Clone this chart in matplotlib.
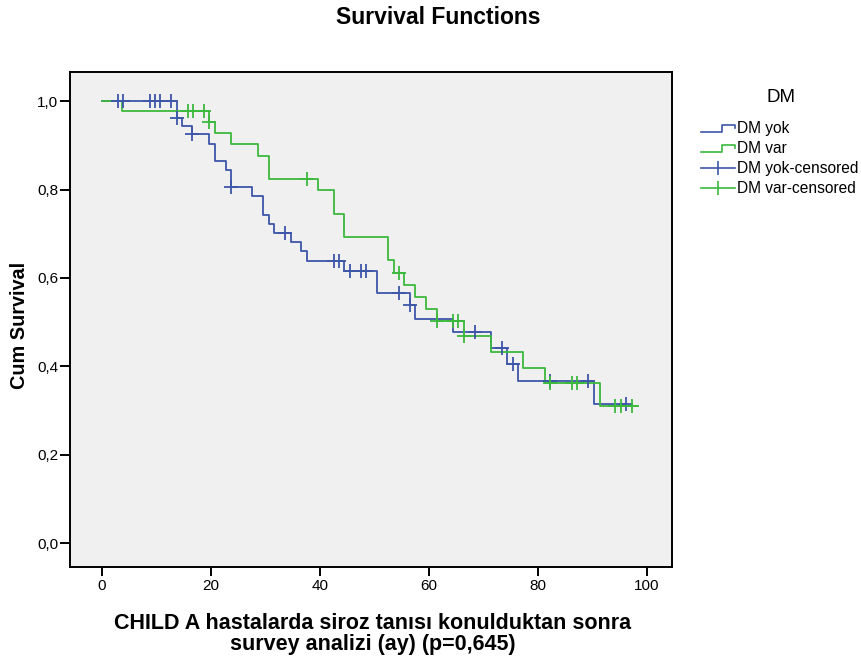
import matplotlib
matplotlib.use("Agg")
import matplotlib.pyplot as plt
from matplotlib.lines import Line2D
from matplotlib.legend_handler import HandlerBase
from matplotlib.ticker import FuncFormatter

plt.rcParams['font.family'] = ['Liberation Sans', 'DejaVu Sans']

# Kaplan-Meier steps (time in months, cumulative survival)
yok_t = [0, 13.7, 14.7, 16.6, 19.6, 20.7, 22.7, 23.7, 27.6, 29.6, 30.6, 31.6, 34.6,
         36.6, 37.6, 44.5, 50.4, 56.5, 57.5, 64.4, 71.3, 74.3, 76.3, 90.2, 96.2]
yok_s = [1.0, 0.963, 0.944, 0.925, 0.904, 0.865, 0.845, 0.805, 0.785, 0.743, 0.722, 0.702, 0.682,
         0.661, 0.639, 0.616, 0.565, 0.538, 0.508, 0.477, 0.442, 0.405, 0.367, 0.315, 0.315]
yok_cens_t = [2.9, 3.8, 8.8, 9.7, 10.7, 12.7, 13.7, 16.6, 23.7, 33.6, 42.6, 43.5,
              45.5, 47.5, 48.5, 54.5, 56.5, 68.4, 73.4, 75.4, 82.2, 89.2, 96.2]
yok_cens_s = [1.0, 1.0, 1.0, 1.0, 1.0, 1.0, 0.963, 0.925, 0.805, 0.702, 0.639, 0.639,
              0.616, 0.616, 0.616, 0.565, 0.538, 0.477, 0.442, 0.405, 0.367, 0.367, 0.315]

var_t = [0, 3.7, 19.7, 20.7, 23.7, 28.6, 30.6, 39.6, 42.6, 44.5, 52.5, 53.5, 55.5,
         57.5, 59.4, 61.5, 66.4, 71.3, 77.3, 81.3, 91.3, 98.1]
var_s = [1.0, 0.978, 0.953, 0.928, 0.902, 0.876, 0.825, 0.799, 0.745, 0.692, 0.640, 0.612, 0.584,
         0.557, 0.530, 0.502, 0.468, 0.433, 0.397, 0.363, 0.310, 0.310]
var_cens_t = [15.7, 16.7, 18.7, 19.7, 37.6, 54.5, 61.5, 64.4, 65.4, 66.4,
              82.3, 86.2, 87.2, 94.2, 95.2, 97.2]
var_cens_s = [0.978, 0.978, 0.978, 0.953, 0.825, 0.612, 0.502, 0.502, 0.502, 0.468,
              0.363, 0.363, 0.363, 0.310, 0.310, 0.310]

labels = ['DM yok', 'DM var', 'DM yok-censored', 'DM var-censored']
blue = '#3d56a8'
green = '#3cb93c'


class StepHandler(HandlerBase):
    # little step glyph like the SPSS legend
    def create_artists(self, legend, orig_handle, xdescent, ydescent, width, height, fontsize, trans):
        x0 = -xdescent
        y0 = -ydescent
        xs = [x0, x0 + width * 0.62, x0 + width * 0.62, x0 + width, x0 + width]
        ys = [y0 + height * 0.1, y0 + height * 0.1, y0 + height * 0.75, y0 + height * 0.75, y0 + height * 0.45]
        ln = Line2D(xs, ys, color=orig_handle.get_color(), lw=1.2, transform=trans)
        return [ln]


fig = plt.figure(figsize=(8.62, 6.64), dpi=100)
ax = fig.add_axes([70 / 862, 1 - 567 / 664, 602 / 862, 495 / 664])
ax.set_facecolor('#f0f0f0')

h1, = ax.step(yok_t, yok_s, where='post', color=blue, lw=1.3)
h2, = ax.step(var_t, var_s, where='post', color=green, lw=1.3)
h3, = ax.plot(yok_cens_t, yok_cens_s, '+', color=blue, ms=10, mew=1.3)
h4, = ax.plot(var_cens_t, var_cens_s, '+', color=green, ms=10, mew=1.3)

ax.set_xlim(-5.87, 104.6)
ax.set_ylim(-0.054, 1.066)
ax.set_xticks([0, 20, 40, 60, 80, 100])
ax.set_yticks([0, 0.2, 0.4, 0.6, 0.8, 1.0])
ax.yaxis.set_major_formatter(FuncFormatter(lambda v, p: f"{v:.1f}".replace('.', ',')))
ax.tick_params(axis='x', length=6.5, width=1.4, labelsize=11, pad=2.5)
ax.tick_params(axis='y', length=7.5, width=1.4, labelsize=11, pad=1)
for sp in ax.spines.values():
    sp.set_linewidth(1.4)

fig.text(438.5 / 862, 1 - 17 / 664, 'Survival Functions', ha='center', va='center',
         fontsize=16.5, fontweight='bold')
fig.text(20 / 862, 1 - 325 / 664, 'Cum Survival', ha='center', va='center',
         rotation=90, fontsize=14.3, fontweight='bold')
fig.text(372.5 / 862, 1 - 634 / 664, 'CHILD A hastalarda siroz tanısı konulduktan sonra\nsurvey analizi (ay) (p=0,645)',
         ha='center', va='center', fontsize=15.5, fontweight='bold', linespacing=1.02)

fig.text(781 / 862, 1 - 97 / 664, 'DM', ha='center', va='center', fontsize=13.5)
leg = fig.legend([h1, h2, h3, h4], labels,
                 handler_map={h1: StepHandler(), h2: StepHandler()},
                 loc='upper left', bbox_to_anchor=(690 / 862, 1 - 110 / 664), frameon=False,
                 fontsize=11.2, handlelength=2.2, handletextpad=0.15,
                 labelspacing=0.33, numpoints=1, borderpad=0.2)
for lh in leg.legend_handles[2:]:
    lh.set_marker('|')
    lh.set_linestyle('-')
    lh.set_linewidth(1.2)
    lh.set_markersize(10)
    lh.set_markeredgewidth(1.2)

fig.savefig('out.png', dpi=100)
